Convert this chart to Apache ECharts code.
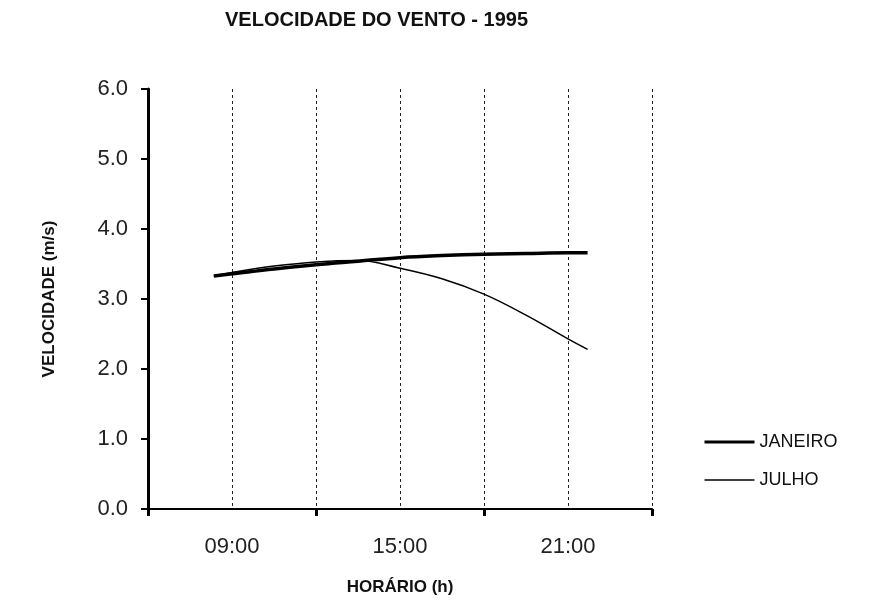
<!DOCTYPE html>
<html>
<head>
<meta charset="utf-8">
<title>Velocidade do vento - 1995</title>
<script src="https://cdn.jsdelivr.net/npm/echarts@6/dist/echarts.min.js"></script>
<style>
  html, body { margin: 0; padding: 0; background: #fff; }
  #chart { width: 880px; height: 601px; }
</style>
</head>
<body>
<div id="chart"></div>
<script>
// horas do dia (eixo x, valor) e velocidades
const horas = [8.35, 9, 10.5, 12, 13.5, 15, 16.5, 18, 19.5, 21, 21.7]
const janeiro = [3.33, 3.36, 3.43, 3.49, 3.54, 3.59, 3.62, 3.64, 3.65, 3.66, 3.66]
const julho = [3.33, 3.38, 3.47, 3.53, 3.55, 3.44, 3.29, 3.07, 2.77, 2.43, 2.28]
const rotulosX = { 9: '09:00', 15: '15:00', 21: '21:00' }
const yTicks = [0, 1, 2, 3, 4, 5, 6]

const fonte = "'Liberation Sans', Arial, sans-serif"

const pares = (ys) => horas.map((h, i) => [h, ys[i]])

const myChart = echarts.init(document.getElementById('chart'))

const option = {
  animation: false,
  backgroundColor: '#fff',
  title: {
    text: 'VELOCIDADE DO VENTO - 1995',
    left: 225,
    top: 10,
    padding: 0,
    textStyle: {
      fontFamily: fonte,
      fontSize: 20,
      fontWeight: 'bold',
      color: '#111',
    },
  },
  legend: {
    orient: 'vertical',
    left: 698,
    top: 428,
    itemWidth: 50,
    itemHeight: 14,
    itemGap: 20,
    itemStyle: { opacity: 0 },
    textStyle: {
      fontFamily: fonte,
      fontSize: 18,
      color: '#111',
    },
    data: [
      { name: 'JANEIRO', lineStyle: { width: 3, color: '#000' } },
      { name: 'JULHO', lineStyle: { width: 1.5, color: '#000' } },
    ],
  },
  grid: {
    left: 148,
    right: 228,
    top: 89,
    bottom: 90,
  },
  xAxis: [
    {
      // rótulos e linhas tracejadas a cada 3 h
      type: 'value',
      min: 6,
      max: 24,
      interval: 3,
      position: 'bottom',
      name: 'HORÁRIO (h)',
      nameLocation: 'middle',
      nameGap: 70,
      nameTextStyle: {
        fontFamily: fonte,
        fontSize: 17,
        fontWeight: 'bold',
        color: '#111',
      },
      axisLine: { show: false },
      axisTick: { show: false },
      axisLabel: {
        margin: 27,
        fontFamily: fonte,
        fontSize: 22,
        color: '#222',
        formatter: (v) => rotulosX[v] || '',
      },
      splitLine: {
        show: true,
        lineStyle: { color: '#222', width: 1, type: [3, 3] },
      },
    },
    {
      // eixo com marcas a cada 6 h
      type: 'value',
      min: 6,
      max: 24,
      interval: 6,
      position: 'bottom',
      axisLine: { show: true, lineStyle: { color: '#000', width: 2 } },
      axisTick: { show: true, length: 7, lineStyle: { color: '#000', width: 3 } },
      axisLabel: { show: false },
      splitLine: { show: false },
    },
  ],
  yAxis: {
    type: 'value',
    min: yTicks[0],
    max: yTicks[yTicks.length - 1],
    interval: 1,
    name: 'VELOCIDADE (m/s)',
    nameLocation: 'middle',
    nameRotate: 90,
    nameGap: 90,
    nameTextStyle: {
      fontFamily: fonte,
      fontSize: 17,
      fontWeight: 'bold',
      color: '#111',
    },
    axisLine: { show: true, lineStyle: { color: '#000', width: 3 } },
    axisTick: { show: true, length: 7, lineStyle: { color: '#000', width: 2 } },
    axisLabel: {
      margin: 20,
      fontFamily: fonte,
      fontSize: 22,
      color: '#222',
      formatter: (v) => v.toFixed(1),
    },
    splitLine: { show: false },
  },
  series: [
    {
      name: 'JANEIRO',
      type: 'line',
      xAxisIndex: 0,
      data: pares(janeiro),
      smooth: 0.4,
      symbol: 'none',
      lineStyle: { color: '#000', width: 3.5 },
      itemStyle: { color: '#000' },
      z: 3,
    },
    {
      name: 'JULHO',
      type: 'line',
      xAxisIndex: 0,
      data: pares(julho),
      smooth: 0.4,
      symbol: 'none',
      lineStyle: { color: '#000', width: 1.5 },
      itemStyle: { color: '#000' },
      z: 4,
    },
  ],
}

myChart.setOption(option)
</script>
</body>
</html>
